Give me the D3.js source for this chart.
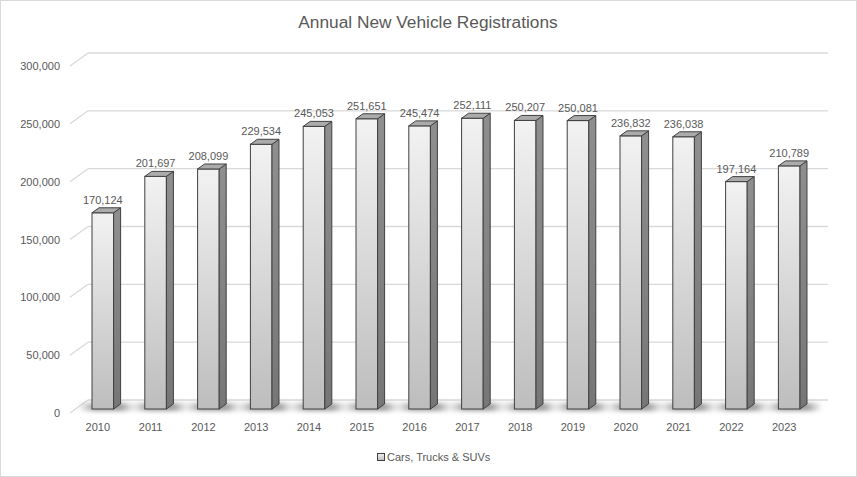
<!DOCTYPE html>
<html>
<head>
  <title>Annual New Vehicle Registrations</title>
  <script src="https://cdn.jsdelivr.net/npm/d3@7"></script>
  <style>
    body { margin: 0; background: #fff; }
    text { font-family: "Liberation Sans", Arial, sans-serif; fill: #595959; }
  </style>
</head>
<body>
<div id="chart"></div>
<script>
// chart data
var years = ["2010", "2011", "2012", "2013", "2014", "2015", "2016", "2017", "2018", "2019", "2020", "2021", "2022", "2023"];
var registrations = [170124, 201697, 208099, 229534, 245053, 251651, 245474, 252111, 250207, 250081, 236832, 236038, 197164, 210789];
var yTicks = [0, 50000, 100000, 150000, 200000, 250000, 300000];
var seriesName = "Cars, Trucks & SUVs";

var width = 857, height = 477;
var depthX = 18, depthY = 13;   // back wall offset
var barDx = 7, barDy = 5;       // bar depth

var svg = d3.select("#chart").append("svg")
  .attr("width", width)
  .attr("height", height);

var defs = svg.append("defs");

// front face gradient
var gFront = defs.append("linearGradient").attr("id", "gFront")
  .attr("x1", 0).attr("y1", 0).attr("x2", 0).attr("y2", 1);
gFront.append("stop").attr("offset", "0%").attr("stop-color", "#f2f2f2");
gFront.append("stop").attr("offset", "100%").attr("stop-color", "#bdbdbd");

var gSide = defs.append("linearGradient").attr("id", "gSide")
  .attr("x1", 0).attr("y1", 0).attr("x2", 0).attr("y2", 1);
gSide.append("stop").attr("offset", "0%").attr("stop-color", "#8f8f8f");
gSide.append("stop").attr("offset", "100%").attr("stop-color", "#767676");

// shadow: darker in the middle, fading to the sides
var gShadow = defs.append("linearGradient").attr("id", "gShadow")
  .attr("x1", 0).attr("y1", 0).attr("x2", 1).attr("y2", 0);
gShadow.append("stop").attr("offset", "0%").attr("stop-color", "#888").attr("stop-opacity", 0);
gShadow.append("stop").attr("offset", "30%").attr("stop-color", "#888").attr("stop-opacity", 0.8);
gShadow.append("stop").attr("offset", "75%").attr("stop-color", "#888").attr("stop-opacity", 0.8);
gShadow.append("stop").attr("offset", "100%").attr("stop-color", "#888").attr("stop-opacity", 0);

defs.append("filter").attr("id", "blur")
  .attr("x", "-50%").attr("y", "-100%").attr("width", "200%").attr("height", "300%")
  .append("feGaussianBlur").attr("stdDeviation", 2);

// outer border
svg.append("rect")
  .attr("x", 0.5).attr("y", 0.5)
  .attr("width", width - 1).attr("height", height - 1)
  .attr("fill", "#fff")
  .attr("stroke", "#d9d9d9");

// title
svg.append("text")
  .attr("x", 428)
  .attr("y", 28)
  .attr("text-anchor", "middle")
  .style("font-size", "17.3px")
  .text("Annual New Vehicle Registrations");

// scales
var yFront = d3.scaleLinear().domain([0, 300000]).range([413, 66]);
var yBar = d3.scaleLinear().domain([0, 300000]).range([409, 63]);
var x = d3.scaleBand().domain(years).range([60.8, 831.2]).padding(0.591);

var wallLeft = 70, wallRight = 828 - depthX;

// gridlines: diagonal on the side + line on the back wall
var grid = svg.append("g");
yTicks.forEach(function(t) {
  var yf = yFront(t), yb = yf - depthY;
  grid.append("line")
    .attr("x1", wallLeft).attr("y1", yf)
    .attr("x2", wallLeft + depthX).attr("y2", yb)
    .attr("stroke", "#d9d9d9").attr("stroke-width", 1.3);
  grid.append("line")
    .attr("x1", wallLeft + depthX).attr("y1", yb)
    .attr("x2", wallRight + depthX).attr("y2", yb)
    .attr("stroke", "#d9d9d9").attr("stroke-width", 1.3);
});

// y axis labels
svg.append("g").selectAll("text")
  .data(yTicks)
  .enter().append("text")
  .attr("x", 60)
  .attr("y", function(d) { return yFront(d) + 4; })
  .attr("text-anchor", "end")
  .style("font-size", "11px")
  .text(function(d) { return d3.format(",")(d); });

// floor shadows
svg.append("g").attr("filter", "url(#blur)").selectAll("rect")
  .data(registrations)
  .enter().append("rect")
  .attr("x", function(d, i) { return x(years[i]) - 14; })
  .attr("y", 403)
  .attr("width", x.bandwidth() + 36)
  .attr("height", 8)
  .attr("fill", "url(#gShadow)");

// bars
var bars = svg.append("g").selectAll("g")
  .data(registrations)
  .enter().append("g");

bars.append("rect")
  .attr("x", function(d, i) { return x(years[i]); })
  .attr("y", function(d) { return yBar(d); })
  .attr("width", x.bandwidth())
  .attr("height", function(d) { return yBar(0) - yBar(d); })
  .attr("fill", "url(#gFront)")
  .attr("stroke", "#404040")
  .attr("stroke-width", 1);

bars.append("polygon")
  .attr("points", function(d, i) {
    var x1 = x(years[i]) + x.bandwidth(), top = yBar(d), base = yBar(0);
    return [[x1, top], [x1 + barDx, top - barDy], [x1 + barDx, base - barDy], [x1, base]].join(" ");
  })
  .attr("fill", "url(#gSide)")
  .attr("stroke", "#404040")
  .attr("stroke-width", 1)
  .attr("stroke-linejoin", "round");

bars.append("polygon")
  .attr("points", function(d, i) {
    var x0 = x(years[i]), x1 = x0 + x.bandwidth(), top = yBar(d);
    return [[x0, top], [x0 + barDx, top - barDy], [x1 + barDx, top - barDy], [x1, top]].join(" ");
  })
  .attr("fill", "#ababab")
  .attr("stroke", "#404040")
  .attr("stroke-width", 1)
  .attr("stroke-linejoin", "round");

// data labels
bars.append("text")
  .attr("x", function(d, i) { return x(years[i]) + x.bandwidth() / 2; })
  .attr("y", function(d) { return yBar(d) - 9; })
  .attr("text-anchor", "middle")
  .style("font-size", "11px")
  .text(function(d) { return d3.format(",")(d); });

// category labels
svg.append("g").selectAll("text")
  .data(years)
  .enter().append("text")
  .attr("x", function(d) { return x(d) + x.bandwidth() / 2 - 5; })
  .attr("y", 431)
  .attr("text-anchor", "middle")
  .style("font-size", "11px")
  .text(function(d) { return d; });

// legend
var legend = svg.append("g");
legend.append("rect")
  .attr("x", 377.5).attr("y", 453.5)
  .attr("width", 7).attr("height", 7)
  .attr("fill", "url(#gFront)")
  .attr("stroke", "#404040");
legend.append("text")
  .attr("x", 387)
  .attr("y", 461)
  .style("font-size", "11px")
  .text(seriesName);
</script>
</body>
</html>
